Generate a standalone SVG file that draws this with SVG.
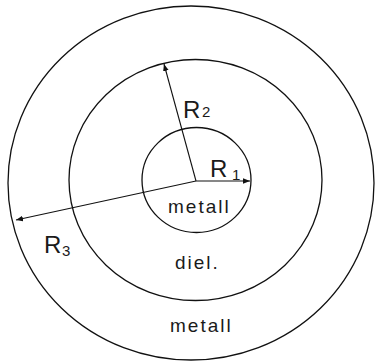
<svg xmlns="http://www.w3.org/2000/svg" width="375" height="363" viewBox="0 0 375 363">
<defs>
<style>
.c{fill:none;stroke:#111;stroke-width:1.3}
.l{fill:none;stroke:#111;stroke-width:1.1}
.t{font-family:"Liberation Sans",Arial,sans-serif;fill:#1a1a1a}
.big{font-size:24px}
.sub{font-size:15px}
.lab{font-size:19px;letter-spacing:2px}
</style>
<marker id="ah" viewBox="0 0 10 10" refX="10" refY="5" markerWidth="7" markerHeight="7" markerUnits="userSpaceOnUse" orient="auto">
<path d="M0,1 L10,5 L0,9 Z" fill="#111"/>
</marker>
</defs>
<rect width="375" height="363" fill="#fff"/>
<g id="outer"><ellipse class="c" cx="191" cy="183" rx="183" ry="177"/></g>
<g id="middle"><ellipse class="c" cx="195.5" cy="180" rx="126.5" ry="120.5"/></g>
<g id="inner"><ellipse class="c" cx="196.5" cy="180" rx="54.5" ry="52.5"/></g>
<g id="connectors">
<line class="l" x1="196" y1="181" x2="250" y2="181" marker-end="url(#ah)"/>
<line class="l" x1="196" y1="181" x2="164" y2="64" marker-end="url(#ah)"/>
<line class="l" x1="196" y1="181" x2="16" y2="220" marker-end="url(#ah)"/>
</g>
<g id="labels">
<text class="t big" x="210" y="177">R<tspan class="sub" x="232" y="180">1</tspan></text>
<text class="t big" x="183" y="118">R<tspan class="sub" x="202" y="117">2</tspan></text>
<text class="t big" x="44" y="253">R<tspan class="sub" x="62" y="256">3</tspan></text>
<text class="t lab" x="168" y="213">metall</text>
<text class="t lab" x="175" y="269">diel.</text>
<text class="t lab" x="170" y="332">metall</text>
</g>
</svg>
